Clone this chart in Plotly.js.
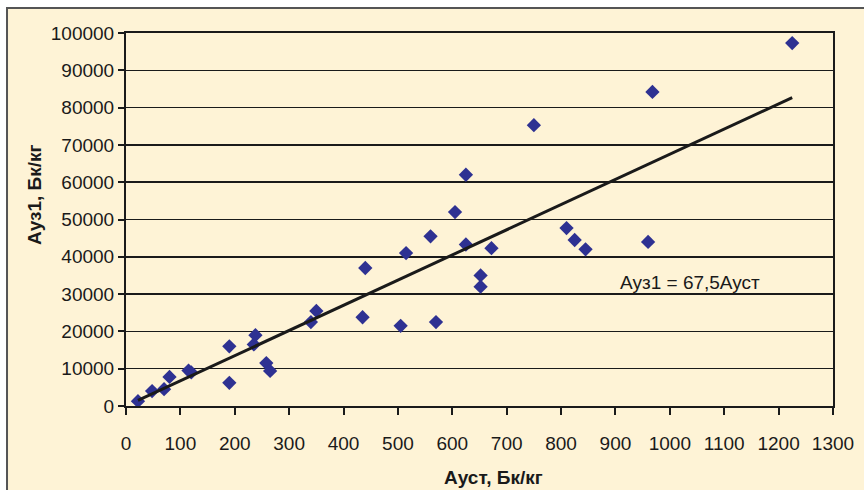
<!DOCTYPE html>
<html>
<head>
<meta charset="utf-8">
<script src="https://cdn.plot.ly/plotly-3.0.1.min.js"></script>
<style>html,body{margin:0;padding:0;background:#fff;}#chart{width:864px;height:490px;}</style>
</head>
<body>
<div id="chart"></div>
<script>
// Data
const aust = [22, 48, 70, 80, 115, 120, 190, 190, 235, 238, 258, 265, 340, 350, 435, 440, 505, 515, 560, 570, 605, 625, 625, 652, 652, 672, 750, 810, 825, 845, 960, 968, 1225];
const auz1 = [1300, 4000, 4500, 7800, 9500, 9000, 16000, 6200, 16500, 19000, 11500, 9400, 22500, 25500, 23800, 37000, 21500, 41000, 45500, 22500, 52000, 62000, 43300, 35000, 32000, 42300, 75300, 47700, 44500, 42000, 44000, 84200, 97300];
const slope = 67.5;
const xTicks = [0,100,200,300,400,500,600,700,800,900,1000,1100,1200,1300];
const yTicks = [0,10000,20000,30000,40000,50000,60000,70000,80000,90000,100000];
const xTitle = "Ауст, Бк/кг";
const yTitle = "Ауз1, Бк/кг";
const eqText = "Ауз1 = 67,5Ауст";

const xmin = Math.min(...aust), xmax = Math.max(...aust);
const font = "Liberation Sans, Arial, sans-serif";
const dark = "#1a1a1a";

const traces = [
  {x: aust, y: auz1, type: "scatter", mode: "markers",
   marker: {symbol: "diamond", size: 11, color: "#2E3192"}, showlegend: false},
  {x: [xmin, xmax], y: [slope*xmin, slope*xmax], type: "scatter", mode: "lines",
   line: {color: dark, width: 3}, showlegend: false}
];

const layout = {
  width: 864, height: 490,
  margin: {l: 126, r: 31, t: 33, b: 84},
  paper_bgcolor: "#ffffff",
  plot_bgcolor: "rgba(0,0,0,0)",
  font: {family: font, size: 19, color: dark},
  shapes: [{type: "rect", xref: "paper", yref: "paper", layer: "below",
    x0: -0.1683, x1: 1.1, y0: -0.3, y1: 1.067,
    fillcolor: "#FEF3D6", line: {color: "#555", width: 2}}],
  xaxis: {range: [0, 1300], tickvals: xTicks, ticktext: xTicks.map(String),
    showgrid: false, zeroline: false, showline: true, linecolor: dark, linewidth: 2,
    mirror: true, ticks: "outside", ticklen: 7, tickwidth: 2, tickcolor: dark,
    ticklabelstandoff: 12},
  yaxis: {range: [0, 100000], tickvals: yTicks, ticktext: yTicks.map(String),
    showgrid: true, gridcolor: dark, gridwidth: 1.5, zeroline: false,
    showline: true, linecolor: dark, linewidth: 2, mirror: true,
    ticks: "outside", ticklen: 6, tickwidth: 2, tickcolor: dark},
  annotations: [
    {x: 1037, y: 33200, xref: "x", yref: "y", text: eqText, showarrow: false,
     font: {family: font, size: 19, color: dark}},
    {x: (493-126)/707, y: -(478-406)/373, xref: "paper", yref: "paper", text: xTitle,
     showarrow: false, xanchor: "center", yanchor: "middle",
     font: {family: font, size: 19, weight: "bold", color: dark}},
    {x: (35-126)/707, y: (406-195)/373, xref: "paper", yref: "paper", text: yTitle,
     showarrow: false, textangle: -90, xanchor: "center", yanchor: "middle",
     font: {family: font, size: 19, weight: "bold", color: dark}}
  ]
};

Plotly.newPlot("chart", traces, layout, {displayModeBar: false, staticPlot: true});
</script>
</body>
</html>
